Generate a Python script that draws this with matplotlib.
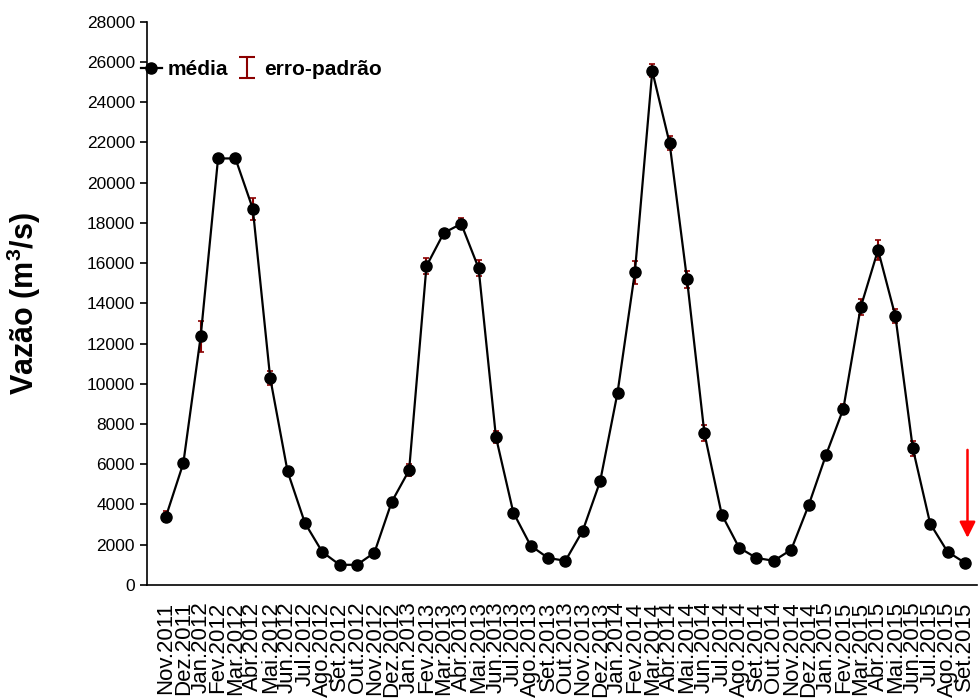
import numpy as np
import matplotlib
matplotlib.use("Agg")
import matplotlib.pyplot as plt

plt.rcParams['font.family'] = ['Liberation Sans', 'DejaVu Sans']

meses = ["Nov.2011", "Dez.2011",
         "Jan.2012", "Fev.2012", "Mar.2012", "Abr.2012", "Mai.2012", "Jun.2012",
         "Jul.2012", "Ago.2012", "Set.2012", "Out.2012", "Nov.2012", "Dez.2012",
         "Jan.2013", "Fev.2013", "Mar.2013", "Abr.2013", "Mai.2013", "Jun.2013",
         "Jul.2013", "Ago.2013", "Set.2013", "Out.2013", "Nov.2013", "Dez.2013",
         "Jan.2014", "Fev.2014", "Mar.2014", "Abr.2014", "Mai.2014", "Jun.2014",
         "Jul.2014", "Ago.2014", "Set.2014", "Out.2014", "Nov.2014", "Dez.2014",
         "Jan.2015", "Fev.2015", "Mar.2015", "Abr.2015", "Mai.2015", "Jun.2015",
         "Jul.2015", "Ago.2015", "Set.2015"]

media = [3400, 6050,
         12350, 21200, 21200, 18700, 10300, 5650,
         3080, 1640, 1000, 1000, 1600, 4130,
         5700, 15850, 17500, 17950, 15750, 7350,
         3600, 1950, 1340, 1200, 2700, 5150,
         9550, 15550, 25550, 21950, 15200, 7550,
         3500, 1850, 1340, 1200, 1750, 3950,
         6450, 8750, 13800, 16650, 13350, 6800,
         3050, 1650, 1100]

erro = [250, 150,
        750, 150, 150, 550, 350, 150,
        100, 80, 60, 60, 80, 150,
        300, 400, 150, 275, 400, 300,
        150, 80, 60, 60, 100, 150,
        200, 575, 325, 350, 425, 400,
        150, 80, 60, 60, 80, 150,
        200, 250, 400, 475, 350, 375,
        150, 80, 60]

x = np.arange(len(meses))

fig = plt.figure(figsize=(9.79, 6.98), dpi=100)
ax = fig.add_axes([0.150, 0.162, 0.848, 0.807])

eb = ax.errorbar(x, media, yerr=erro, fmt='none', ecolor='#8b0000',
                 elinewidth=1.5, capsize=2, capthick=1.2, zorder=2)
ln, = ax.plot(x, media, color='black', marker='o', markersize=8,
              linewidth=1.6, zorder=3)

# handle da legenda: barra de erro fora da area visivel
eb_leg = ax.errorbar([-50], [0], yerr=[1], fmt='none', ecolor='#8b0000',
                     elinewidth=1.5, capsize=6, capthick=1.5)

leg = ax.legend([ln, eb_leg], ['média', 'erro-padrão'], loc='upper left',
                bbox_to_anchor=(-0.03, 0.965), ncol=2, frameon=False,
                handlelength=1.0, handletextpad=0.3, columnspacing=0.4,
                prop={'weight': 'bold', 'size': 15})

# seta vermelha
ax.annotate('', xy=(46.15, 2200), xytext=(46.15, 6850),
            arrowprops=dict(arrowstyle='-|>', color='red', lw=1.8,
                            mutation_scale=24))

ax.set_xlim(-1.1, 46.7)
ax.set_ylim(0, 28000)
ax.set_yticks(np.arange(0, 28001, 2000))
ax.set_xticks(x)
ax.set_xticklabels(meses, rotation=90, fontsize=16)
ax.set_xticks(x[::2], minor=True)
ax.tick_params(axis='x', which='major', length=0, pad=12)
ax.tick_params(axis='x', which='minor', length=5, width=1.2)
ax.tick_params(axis='y', labelsize=12.5, length=5, width=1.2)

ax.set_ylabel('Vazão (m$^\\mathregular{3}$/s)', fontsize=22, fontweight='bold')
ax.yaxis.set_label_coords(-0.125, 0.5)

for s in ['top', 'right']:
    ax.spines[s].set_visible(False)
for s in ['left', 'bottom']:
    ax.spines[s].set_linewidth(1.2)

fig.savefig('out.png', dpi=100)
